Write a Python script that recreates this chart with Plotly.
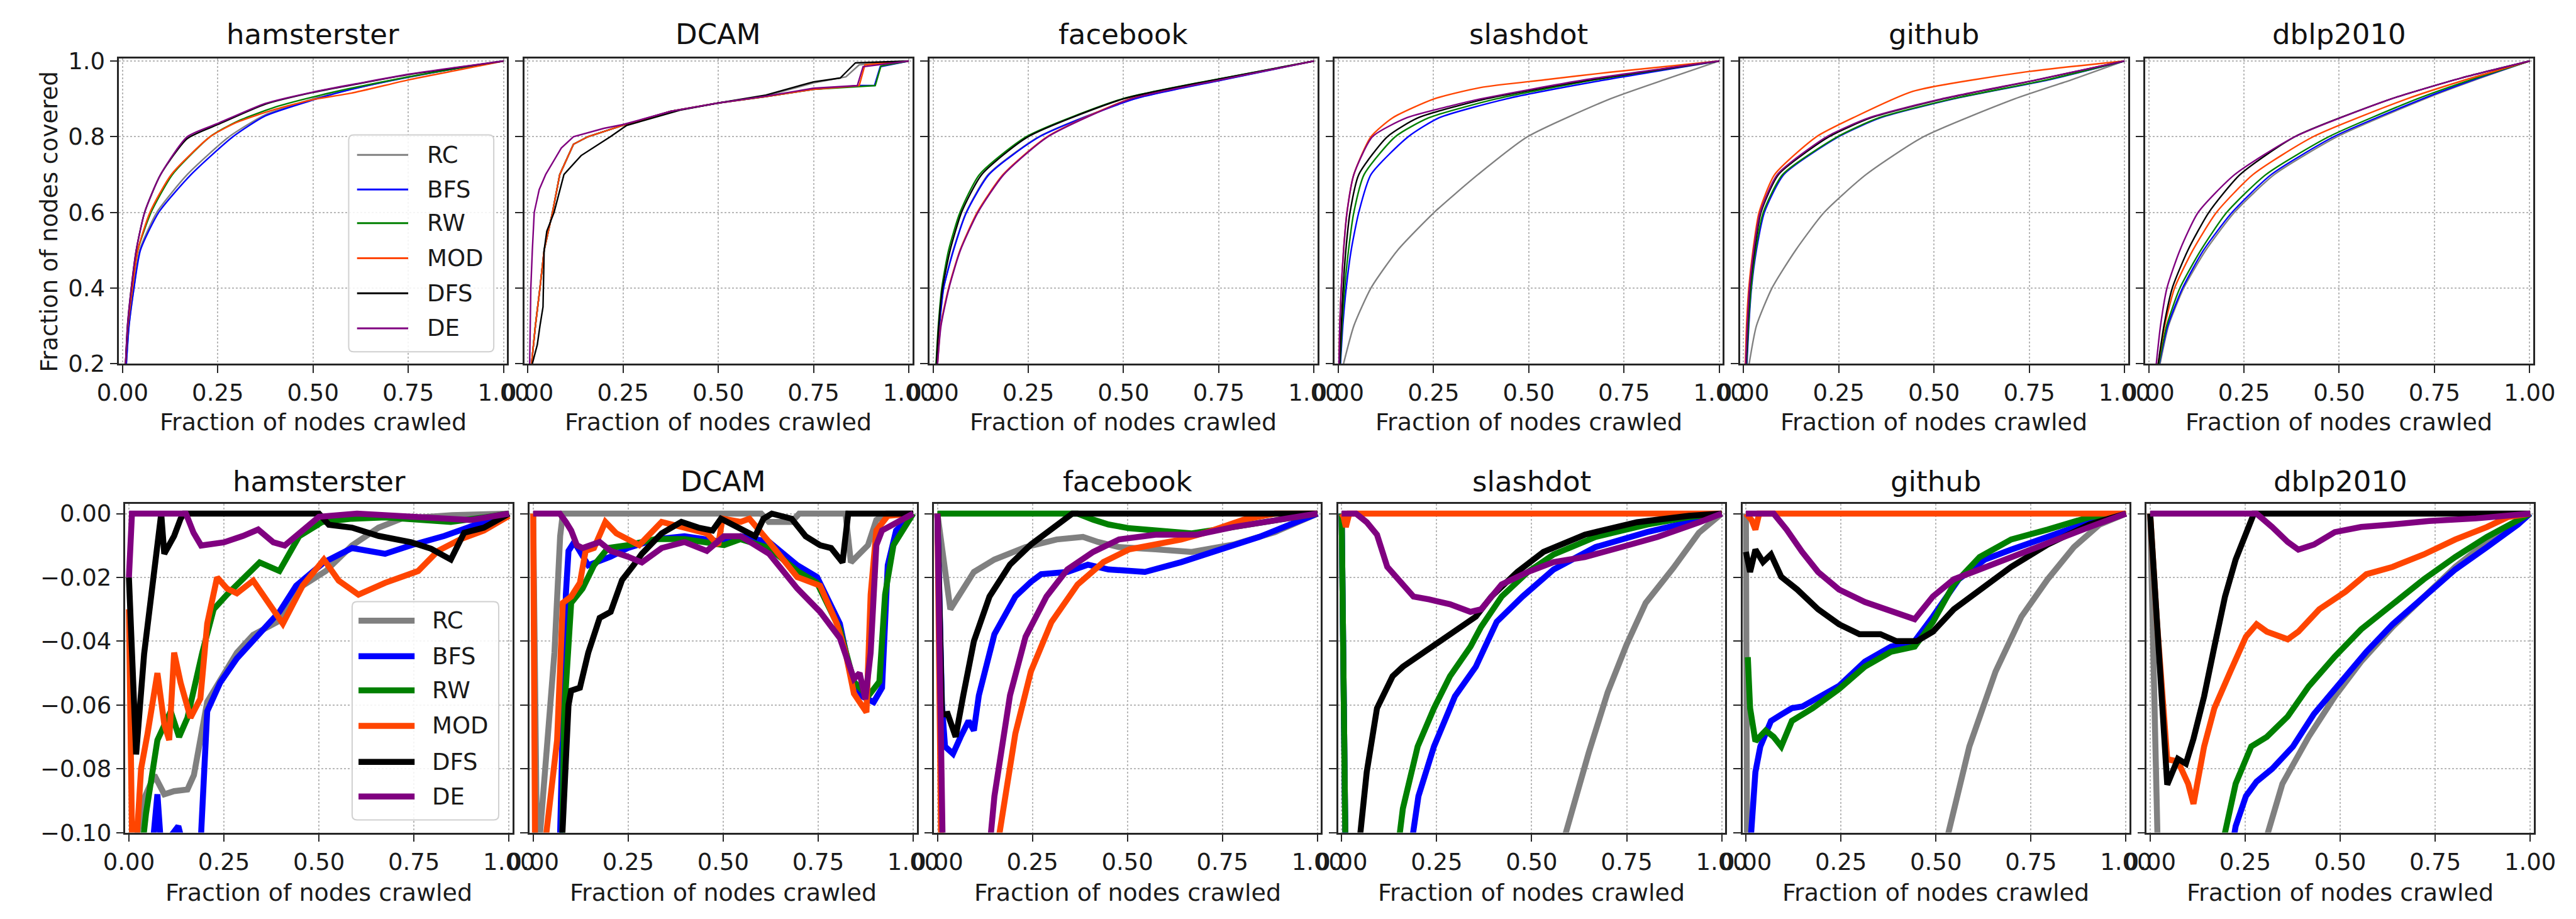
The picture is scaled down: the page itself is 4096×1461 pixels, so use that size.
import plotly.graph_objects as go

# ---------------- data ----------------
DATASETS = ["hamsterster", "DCAM", "facebook", "slashdot", "github", "dblp2010"]
SERIES = ["RC", "BFS", "RW", "MOD", "DFS", "DE"]
COLORS = {"RC": "#808080", "BFS": "#0000ff", "RW": "#008000",
          "MOD": "#ff4500", "DFS": "#000000", "DE": "#800080"}

X_TICKS = [0, 0.25, 0.5, 0.75, 1.0]
X_TICKTEXT = ["0.00", "0.25", "0.50", "0.75", "1.00"]
TOP_Y_TICKS = [0.2, 0.4, 0.6, 0.8, 1.0]
TOP_Y_TICKTEXT = ["0.2", "0.4", "0.6", "0.8", "1.0"]
BOT_Y_TICKS = [0.0, -0.02, -0.04, -0.06, -0.08, -0.10]
BOT_Y_TICKTEXT = ["0.00", "\u22120.02", "\u22120.04", "\u22120.06", "\u22120.08", "\u22120.10"]

# ---- top row: fraction of nodes covered ----
TOP_HAMSTERSTER = {
    "RC":  ([0.01, 0.017, 0.03, 0.045, 0.09, 0.17, 0.28, 0.375, 0.5, 0.6, 0.75, 0.875, 1.0],
            [0.2, 0.3, 0.4, 0.5, 0.6, 0.7, 0.8, 0.858, 0.9, 0.925, 0.958, 0.98, 1.0]),
    "BFS": ([0.01, 0.017, 0.03, 0.047, 0.095, 0.18, 0.29, 0.375, 0.5, 0.6, 0.75, 0.875, 1.0],
            [0.2, 0.3, 0.4, 0.5, 0.6, 0.7, 0.8, 0.855, 0.897, 0.925, 0.957, 0.98, 1.0]),
    "RW":  ([0.008, 0.014, 0.026, 0.04, 0.075, 0.131, 0.23, 0.3, 0.4, 0.5, 0.6, 0.75, 0.875, 1.0],
            [0.2, 0.3, 0.4, 0.5, 0.6, 0.7, 0.8, 0.84, 0.878, 0.905, 0.928, 0.958, 0.98, 1.0]),
    "MOD": ([0.008, 0.014, 0.026, 0.04, 0.072, 0.128, 0.23, 0.3, 0.4, 0.5, 0.6, 0.75, 0.875, 1.0],
            [0.2, 0.3, 0.4, 0.5, 0.6, 0.7, 0.8, 0.838, 0.872, 0.898, 0.915, 0.95, 0.975, 1.0]),
    "DFS": ([0.008, 0.013, 0.023, 0.036, 0.058, 0.10, 0.17, 0.25, 0.375, 0.5, 0.625, 0.75, 0.875, 1.0],
            [0.2, 0.3, 0.4, 0.5, 0.6, 0.7, 0.795, 0.832, 0.886, 0.917, 0.941, 0.964, 0.982, 1.0]),
    "DE":  ([0.008, 0.013, 0.023, 0.036, 0.058, 0.10, 0.17, 0.25, 0.375, 0.5, 0.625, 0.75, 0.875, 1.0],
            [0.2, 0.3, 0.4, 0.5, 0.6, 0.7, 0.8, 0.835, 0.888, 0.918, 0.942, 0.965, 0.983, 1.0]),
}
TOP_DCAM = {
    "RC":  ([0.01, 0.02, 0.032, 0.043, 0.065, 0.084, 0.12, 0.158, 0.25, 0.375, 0.5, 0.625, 0.75, 0.835, 0.87, 1.0],
            [0.2, 0.3, 0.4, 0.5, 0.6, 0.7, 0.78, 0.8, 0.83, 0.867, 0.889, 0.908, 0.942, 0.958, 0.99, 1.0]),
    "BFS": ([0.01, 0.02, 0.032, 0.043, 0.065, 0.084, 0.12, 0.158, 0.25, 0.375, 0.5, 0.625, 0.75, 0.87, 0.91, 0.925, 1.0],
            [0.2, 0.3, 0.4, 0.5, 0.6, 0.7, 0.78, 0.8, 0.83, 0.867, 0.889, 0.906, 0.925, 0.935, 0.935, 0.985, 1.0]),
    "RW":  ([0.01, 0.02, 0.032, 0.043, 0.065, 0.084, 0.12, 0.158, 0.25, 0.375, 0.5, 0.625, 0.75, 0.87, 0.912, 0.927, 1.0],
            [0.2, 0.3, 0.4, 0.5, 0.6, 0.7, 0.78, 0.8, 0.83, 0.867, 0.889, 0.906, 0.925, 0.933, 0.935, 0.987, 1.0]),
    "MOD": ([0.01, 0.02, 0.032, 0.043, 0.065, 0.084, 0.12, 0.158, 0.25, 0.375, 0.5, 0.625, 0.75, 0.87, 0.885, 1.0],
            [0.2, 0.3, 0.4, 0.5, 0.6, 0.7, 0.78, 0.8, 0.83, 0.867, 0.889, 0.906, 0.925, 0.935, 0.99, 1.0]),
    "DFS": ([0.012, 0.025, 0.032, 0.04, 0.043, 0.05, 0.069, 0.095, 0.14, 0.217, 0.26, 0.4, 0.5, 0.625, 0.75, 0.82, 0.84, 0.86, 1.0],
            [0.2, 0.25, 0.3, 0.35, 0.5, 0.55, 0.6, 0.7, 0.75, 0.8, 0.83, 0.87, 0.889, 0.91, 0.945, 0.955, 0.975, 0.995, 1.0]),
    "DE":  ([0.005, 0.007, 0.008, 0.012, 0.017, 0.03, 0.047, 0.088, 0.12, 0.2, 0.25, 0.375, 0.5, 0.625, 0.75, 0.865, 0.88, 1.0],
            [0.2, 0.3, 0.4, 0.5, 0.6, 0.66, 0.7, 0.77, 0.8, 0.822, 0.832, 0.867, 0.889, 0.907, 0.928, 0.935, 0.985, 1.0]),
}
TOP_FACEBOOK = {
    "RC":  ([0.01, 0.017, 0.028, 0.053, 0.087, 0.145, 0.278, 0.528, 0.758, 1.0],
            [0.2, 0.3, 0.4, 0.5, 0.6, 0.7, 0.8, 0.9, 0.95, 1.0]),
    "BFS": ([0.01, 0.017, 0.028, 0.054, 0.088, 0.147, 0.28, 0.53, 0.76, 1.0],
            [0.2, 0.3, 0.4, 0.5, 0.6, 0.7, 0.8, 0.9, 0.95, 1.0]),
    "RW":  ([0.008, 0.014, 0.023, 0.041, 0.071, 0.122, 0.245, 0.497, 0.735, 1.0],
            [0.2, 0.3, 0.4, 0.5, 0.6, 0.7, 0.8, 0.9, 0.95, 1.0]),
    "MOD": ([0.012, 0.02, 0.041, 0.071, 0.116, 0.184, 0.30, 0.517, 0.75, 1.0],
            [0.2, 0.3, 0.4, 0.5, 0.6, 0.7, 0.8, 0.9, 0.95, 1.0]),
    "DFS": ([0.009, 0.015, 0.025, 0.045, 0.075, 0.128, 0.25, 0.5, 0.738, 1.0],
            [0.2, 0.3, 0.4, 0.5, 0.6, 0.7, 0.8, 0.9, 0.95, 1.0]),
    "DE":  ([0.012, 0.021, 0.042, 0.072, 0.118, 0.186, 0.302, 0.52, 0.752, 1.0],
            [0.2, 0.3, 0.4, 0.5, 0.6, 0.7, 0.8, 0.9, 0.95, 1.0]),
}
TOP_SLASHDOT = {
    "RC":  ([0.014, 0.041, 0.086, 0.156, 0.252, 0.367, 0.497, 0.714, 0.86, 1.0],
            [0.2, 0.3, 0.4, 0.5, 0.6, 0.7, 0.8, 0.9, 0.952, 1.0]),
    "BFS": ([0.006, 0.012, 0.021, 0.034, 0.054, 0.086, 0.184, 0.265, 0.442, 0.70, 1.0],
            [0.2, 0.3, 0.4, 0.5, 0.6, 0.7, 0.8, 0.85, 0.9, 0.95, 1.0]),
    "RW":  ([0.005, 0.010, 0.017, 0.027, 0.041, 0.068, 0.15, 0.238, 0.415, 0.673, 1.0],
            [0.2, 0.3, 0.4, 0.5, 0.6, 0.7, 0.8, 0.85, 0.9, 0.95, 1.0]),
    "MOD": ([0.002, 0.004, 0.008, 0.014, 0.023, 0.041, 0.086, 0.143, 0.252, 0.374, 0.54, 0.71, 1.0],
            [0.2, 0.3, 0.4, 0.5, 0.6, 0.7, 0.8, 0.85, 0.9, 0.93, 0.95, 0.97, 1.0]),
    "DFS": ([0.004, 0.008, 0.013, 0.020, 0.031, 0.054, 0.129, 0.21, 0.388, 0.66, 1.0],
            [0.2, 0.3, 0.4, 0.5, 0.6, 0.7, 0.8, 0.85, 0.9, 0.95, 1.0]),
    "DE":  ([0.002, 0.004, 0.008, 0.014, 0.023, 0.041, 0.09, 0.18, 0.29, 0.374, 0.646, 1.0],
            [0.2, 0.3, 0.4, 0.5, 0.6, 0.7, 0.8, 0.85, 0.88, 0.9, 0.95, 1.0]),
}
TOP_GITHUB = {
    "RC":  ([0.015, 0.034, 0.075, 0.137, 0.212, 0.322, 0.473, 0.712, 0.86, 1.0],
            [0.2, 0.3, 0.4, 0.5, 0.6, 0.7, 0.8, 0.9, 0.95, 1.0]),
    "BFS": ([0.009, 0.014, 0.021, 0.034, 0.055, 0.106, 0.25, 0.36, 0.552, 0.80, 1.0],
            [0.2, 0.3, 0.4, 0.5, 0.6, 0.7, 0.8, 0.85, 0.9, 0.95, 1.0]),
    "RW":  ([0.008, 0.013, 0.020, 0.032, 0.052, 0.103, 0.247, 0.356, 0.548, 0.795, 1.0],
            [0.2, 0.3, 0.4, 0.5, 0.6, 0.7, 0.8, 0.85, 0.9, 0.95, 1.0]),
    "MOD": ([0.005, 0.008, 0.014, 0.025, 0.041, 0.082, 0.192, 0.288, 0.445, 0.74, 1.0],
            [0.2, 0.3, 0.4, 0.5, 0.6, 0.7, 0.8, 0.85, 0.92, 0.971, 1.0]),
    "DFS": ([0.007, 0.011, 0.017, 0.029, 0.046, 0.092, 0.225, 0.335, 0.525, 0.77, 1.0],
            [0.2, 0.3, 0.4, 0.5, 0.6, 0.7, 0.8, 0.85, 0.9, 0.95, 1.0]),
    "DE":  ([0.006, 0.010, 0.016, 0.027, 0.044, 0.089, 0.219, 0.33, 0.52, 0.767, 1.0],
            [0.2, 0.3, 0.4, 0.5, 0.6, 0.7, 0.8, 0.85, 0.9, 0.95, 1.0]),
}
TOP_DBLP2010 = {
    "RC":  ([0.03, 0.052, 0.092, 0.15, 0.225, 0.33, 0.495, 0.725, 0.86, 1.0],
            [0.2, 0.3, 0.4, 0.5, 0.6, 0.7, 0.8, 0.9, 0.951, 1.0]),
    "BFS": ([0.028, 0.05, 0.089, 0.144, 0.219, 0.322, 0.486, 0.719, 0.855, 1.0],
            [0.2, 0.3, 0.4, 0.5, 0.6, 0.7, 0.8, 0.9, 0.951, 1.0]),
    "RW":  ([0.027, 0.047, 0.082, 0.137, 0.205, 0.308, 0.473, 0.705, 0.85, 1.0],
            [0.2, 0.3, 0.4, 0.5, 0.6, 0.7, 0.8, 0.9, 0.952, 1.0]),
    "MOD": ([0.025, 0.042, 0.068, 0.116, 0.178, 0.274, 0.432, 0.678, 0.84, 1.0],
            [0.2, 0.3, 0.4, 0.5, 0.6, 0.7, 0.8, 0.9, 0.953, 1.0]),
    "DFS": ([0.025, 0.04, 0.062, 0.103, 0.158, 0.24, 0.384, 0.637, 0.82, 1.0],
            [0.2, 0.3, 0.4, 0.5, 0.6, 0.7, 0.8, 0.9, 0.955, 1.0]),
    "DE":  ([0.02, 0.031, 0.048, 0.082, 0.13, 0.226, 0.384, 0.637, 0.82, 1.0],
            [0.2, 0.3, 0.4, 0.5, 0.6, 0.7, 0.8, 0.9, 0.955, 1.0]),
}

# ---- bottom row: difference to the best crawler ----
BOT_HAMSTERSTER = {
    "RC":  ([0.012, 0.023, 0.041, 0.067, 0.093, 0.119, 0.154, 0.171, 0.206, 0.24, 0.284, 0.327, 0.396, 0.457, 0.518, 0.587, 0.657, 0.717, 0.85, 1.0],
            [-0.12, -0.1, -0.089, -0.082, -0.088, -0.087, -0.0865, -0.082, -0.059, -0.052, -0.0436, -0.038, -0.0336, -0.0226, -0.018, -0.010, -0.0044, -0.0016, -0.0005, 0.0]),
    "BFS": ([0.05, 0.06, 0.075, 0.085, 0.13, 0.145, 0.188, 0.206, 0.24, 0.284, 0.327, 0.396, 0.44, 0.513, 0.587, 0.674, 0.743, 0.83, 0.934, 1.0],
            [-0.12, -0.105, -0.088, -0.105, -0.098, -0.105, -0.105, -0.062, -0.053, -0.0454, -0.040, -0.0308, -0.0226, -0.0153, -0.0108, -0.0126, -0.0099, -0.007, -0.0026, 0.0]),
    "RW":  ([0.03, 0.045, 0.075, 0.11, 0.132, 0.154, 0.193, 0.223, 0.258, 0.31, 0.344, 0.396, 0.448, 0.509, 0.587, 0.674, 0.847, 0.934, 1.0],
            [-0.11, -0.094, -0.071, -0.062, -0.070, -0.064, -0.0436, -0.030, -0.0254, -0.019, -0.0153, -0.018, -0.0071, -0.0026, -0.0016, -0.0012, -0.0026, -0.0012, 0.0]),
    "MOD": ([0.0, 0.008, 0.019, 0.032, 0.049, 0.075, 0.093, 0.106, 0.119, 0.136, 0.162, 0.188, 0.206, 0.232, 0.258, 0.284, 0.327, 0.405, 0.457, 0.513, 0.552, 0.604, 0.674, 0.761, 0.813, 0.873, 0.934, 1.0],
            [-0.03, -0.1, -0.105, -0.080, -0.069, -0.050, -0.066, -0.071, -0.0436, -0.053, -0.064, -0.058, -0.0345, -0.020, -0.0235, -0.025, -0.021, -0.0345, -0.0226, -0.0144, -0.021, -0.0254, -0.0217, -0.018, -0.0117, -0.008, -0.0053, -0.0007]),
    "DFS": ([0.0, 0.019, 0.04, 0.067, 0.08, 0.085, 0.093, 0.119, 0.136, 0.145, 0.5, 0.526, 0.587, 0.657, 0.743, 0.795, 0.847, 0.882, 0.934, 1.0],
            [-0.02, -0.0755, -0.044, -0.016, -0.0026, 0.0, -0.0126, -0.007, -0.0016, 0.0, 0.0, -0.0035, -0.0044, -0.007, -0.009, -0.011, -0.0144, -0.006, -0.0044, 0.0]),
    "DE":  ([0.0, 0.008, 0.15, 0.17, 0.19, 0.25, 0.30, 0.34, 0.38, 0.41, 0.45, 0.5, 0.6, 0.75, 0.9, 1.0],
            [-0.02, 0.0, 0.0, -0.006, -0.010, -0.009, -0.007, -0.005, -0.009, -0.010, -0.006, -0.001, 0.0, -0.001, -0.002, 0.0]),
}
BOT_DCAM = {
    "RC":  ([0.0, 0.01, 0.015, 0.033, 0.056, 0.071, 0.078, 0.6, 0.62, 0.68, 0.70, 0.822, 0.836, 0.881, 0.903, 0.93, 1.0],
            [0.0, -0.105, -0.105, -0.080, -0.0436, -0.0071, 0.0, 0.0, -0.0026, -0.0026, 0.0, 0.0, -0.0153, -0.0099, -0.002, 0.0, 0.0]),
    "BFS": ([0.07, 0.086, 0.093, 0.108, 0.145, 0.167, 0.204, 0.249, 0.323, 0.398, 0.502, 0.546, 0.621, 0.695, 0.747, 0.807, 0.836, 0.866, 0.896, 0.918, 0.933, 0.955, 1.0],
            [-0.105, -0.0254, -0.0117, -0.0089, -0.0162, -0.0153, -0.0135, -0.0108, -0.008, -0.0071, -0.0089, -0.0071, -0.0089, -0.0162, -0.0199, -0.0345, -0.0509, -0.0573, -0.0591, -0.0546, -0.0162, -0.0053, 0.0]),
    "RW":  ([0.076, 0.082, 0.10, 0.13, 0.16, 0.197, 0.249, 0.323, 0.398, 0.502, 0.546, 0.621, 0.695, 0.747, 0.807, 0.844, 0.881, 0.911, 0.926, 0.948, 1.0],
            [-0.105, -0.062, -0.028, -0.0235, -0.0162, -0.0108, -0.0099, -0.008, -0.008, -0.0099, -0.008, -0.0108, -0.018, -0.0217, -0.0363, -0.0527, -0.0573, -0.0527, -0.0254, -0.0099, 0.0]),
    "MOD": ([0.0, 0.005, 0.03, 0.063, 0.078, 0.10, 0.123, 0.138, 0.16, 0.19, 0.219, 0.279, 0.338, 0.398, 0.457, 0.487, 0.498, 0.546, 0.569, 0.621, 0.695, 0.755, 0.799, 0.822, 0.844, 0.877, 0.888, 0.903, 0.933, 1.0],
            [0.0, -0.105, -0.105, -0.071, -0.028, -0.026, -0.0217, -0.0117, -0.0108, -0.0026, -0.0062, -0.0099, -0.0026, -0.0044, -0.0062, -0.0099, -0.0016, -0.0026, -0.0016, -0.0089, -0.0199, -0.0226, -0.0345, -0.0436, -0.0564, -0.0623, -0.0254, -0.0053, -0.0007, 0.0]),
    "DFS": ([0.075, 0.093, 0.10, 0.123, 0.145, 0.175, 0.204, 0.234, 0.264, 0.286, 0.338, 0.39, 0.435, 0.472, 0.494, 0.584, 0.606, 0.628, 0.68, 0.717, 0.755, 0.784, 0.814, 0.829, 1.0],
            [-0.105, -0.060, -0.0555, -0.0546, -0.0436, -0.0327, -0.0308, -0.0208, -0.0162, -0.0126, -0.0062, -0.0026, -0.0044, -0.0053, -0.0016, -0.0071, -0.0016, 0.0, -0.0016, -0.0071, -0.0099, -0.0108, -0.0153, 0.0, 0.0]),
    "DE":  ([0.0, 0.07, 0.086, 0.10, 0.115, 0.13, 0.175, 0.204, 0.249, 0.286, 0.338, 0.398, 0.457, 0.502, 0.546, 0.621, 0.695, 0.755, 0.807, 0.844, 0.859, 0.874, 0.888, 0.903, 0.918, 1.0],
            [0.0, 0.0, -0.0026, -0.0053, -0.0099, -0.0108, -0.0089, -0.0117, -0.0135, -0.0153, -0.0108, -0.0089, -0.0117, -0.0071, -0.0071, -0.0126, -0.0235, -0.0308, -0.039, -0.0518, -0.050, -0.0582, -0.0436, -0.0099, -0.0053, 0.0]),
}
BOT_FACEBOOK = {
    "RC":  ([0.0, 0.034, 0.055, 0.096, 0.15, 0.232, 0.314, 0.383, 0.423, 0.478, 0.574, 0.669, 0.779, 0.888, 1.0],
            [0.0, -0.030, -0.026, -0.0183, -0.0144, -0.0105, -0.0081, -0.0073, -0.0089, -0.0105, -0.0112, -0.012, -0.0097, -0.0058, 0.0]),
    "BFS": ([0.0, 0.012, 0.02, 0.041, 0.061, 0.082, 0.096, 0.109, 0.15, 0.205, 0.246, 0.273, 0.342, 0.396, 0.45, 0.546, 0.642, 0.724, 0.847, 1.0],
            [0.0, -0.060, -0.073, -0.0753, -0.070, -0.065, -0.068, -0.057, -0.0378, -0.026, -0.0214, -0.019, -0.0183, -0.016, -0.0175, -0.0183, -0.0152, -0.012, -0.0073, 0.0]),
    "RW":  ([0.0, 0.369, 0.41, 0.45, 0.505, 0.574, 0.669, 0.779, 0.915, 1.0],
            [0.0, 0.0, -0.0019, -0.0034, -0.0046, -0.0054, -0.0062, -0.0042, -0.0019, 0.0]),
    "MOD": ([0.0, 0.01, 0.157, 0.178, 0.205, 0.246, 0.30, 0.369, 0.437, 0.505, 0.574, 0.642, 0.71, 0.806, 0.888, 1.0],
            [0.0, -0.105, -0.105, -0.0886, -0.069, -0.0495, -0.034, -0.0222, -0.0152, -0.0112, -0.0097, -0.0081, -0.0058, -0.0019, 0.0, 0.0]),
    "DFS": ([0.0, 0.012, 0.027, 0.048, 0.068, 0.096, 0.137, 0.191, 0.246, 0.30, 0.355, 1.0],
            [0.0, -0.063, -0.0628, -0.070, -0.057, -0.040, -0.026, -0.016, -0.0097, -0.005, 0.0, 0.0]),
    "DE":  ([0.0, 0.014, 0.137, 0.15, 0.191, 0.232, 0.287, 0.342, 0.41, 0.478, 0.574, 0.683, 0.779, 0.915, 1.0],
            [0.0, -0.105, -0.105, -0.0886, -0.057, -0.0386, -0.026, -0.0175, -0.012, -0.0081, -0.0066, -0.0066, -0.0042, -0.0019, 0.0]),
}
BOT_SLASHDOT = {
    "RC":  ([0.0, 0.01, 0.585, 0.59, 0.65, 0.70, 0.75, 0.80, 0.873, 0.94, 1.0],
            [0.0, -0.105, -0.105, -0.10, -0.075, -0.056, -0.041, -0.028, -0.017, -0.006, 0.0]),
    "BFS": ([0.0, 0.01, 0.182, 0.202, 0.243, 0.298, 0.353, 0.408, 0.476, 0.558, 0.668, 0.804, 0.914, 1.0],
            [0.0, -0.105, -0.105, -0.0886, -0.073, -0.0573, -0.048, -0.0339, -0.026, -0.0175, -0.0105, -0.0058, -0.0027, 0.0]),
    "RW":  ([0.0, 0.01, 0.148, 0.161, 0.20, 0.243, 0.285, 0.339, 0.367, 0.421, 0.49, 0.558, 0.668, 0.804, 0.914, 1.0],
            [0.0, -0.105, -0.105, -0.0925, -0.073, -0.061, -0.051, -0.0417, -0.0355, -0.026, -0.0183, -0.0128, -0.0073, -0.0034, -0.0011, 0.0]),
    "MOD": ([0.0, 0.005, 0.011, 0.02, 1.0],
            [0.0, -0.001, -0.0042, 0.0, 0.0]),
    "DFS": ([0.045, 0.066, 0.093, 0.134, 0.161, 0.20, 0.257, 0.312, 0.353, 0.394, 0.462, 0.531, 0.64, 0.777, 0.914, 1.0],
            [-0.105, -0.081, -0.061, -0.051, -0.048, -0.0448, -0.040, -0.0355, -0.0323, -0.026, -0.0183, -0.012, -0.0066, -0.0027, -0.0007, 0.0]),
    "DE":  ([0.0, 0.038, 0.066, 0.093, 0.12, 0.148, 0.189, 0.23, 0.285, 0.339, 0.367, 0.421, 0.49, 0.558, 0.64, 0.736, 0.832, 0.941, 1.0],
            [0.0, 0.0, -0.0027, -0.0066, -0.0167, -0.0206, -0.026, -0.0269, -0.0284, -0.0308, -0.030, -0.0222, -0.0183, -0.0152, -0.0136, -0.0105, -0.0073, -0.0027, 0.0]),
}
BOT_GITHUB = {
    "RC":  ([0.0, 0.003, 0.53, 0.533, 0.588, 0.657, 0.725, 0.794, 0.863, 0.931, 1.0],
            [0.0, -0.105, -0.105, -0.10, -0.073, -0.0495, -0.0323, -0.0206, -0.0105, -0.0034, 0.0]),
    "BFS": ([0.011, 0.025, 0.038, 0.066, 0.093, 0.121, 0.148, 0.245, 0.313, 0.382, 0.444, 0.492, 0.56, 0.629, 0.698, 0.794, 0.904, 1.0],
            [-0.105, -0.081, -0.073, -0.065, -0.063, -0.061, -0.0605, -0.054, -0.0464, -0.0417, -0.040, -0.0323, -0.0206, -0.0144, -0.0113, -0.0073, -0.0027, 0.0]),
    "RW":  ([0.005, 0.011, 0.025, 0.052, 0.073, 0.093, 0.121, 0.176, 0.245, 0.313, 0.382, 0.444, 0.492, 0.547, 0.615, 0.698, 0.794, 0.904, 1.0],
            [-0.045, -0.061, -0.0714, -0.068, -0.070, -0.073, -0.065, -0.061, -0.055, -0.048, -0.0433, -0.0417, -0.034, -0.0222, -0.0136, -0.0081, -0.005, -0.0011, 0.0]),
    "MOD": ([0.0, 0.015, 0.025, 0.035, 1.0],
            [0.0, -0.002, -0.005, 0.0, 0.0]),
    "DFS": ([0.0, 0.011, 0.025, 0.045, 0.066, 0.093, 0.135, 0.19, 0.245, 0.299, 0.354, 0.396, 0.45, 0.492, 0.547, 0.615, 0.698, 0.794, 0.904, 1.0],
            [-0.012, -0.0183, -0.0113, -0.0152, -0.0128, -0.0198, -0.0238, -0.030, -0.0347, -0.0378, -0.0378, -0.040, -0.040, -0.037, -0.030, -0.0238, -0.0167, -0.0097, -0.0034, 0.0]),
    "DE":  ([0.0, 0.073, 0.107, 0.148, 0.19, 0.245, 0.313, 0.382, 0.444, 0.492, 0.547, 0.615, 0.698, 0.794, 0.904, 1.0],
            [0.0, 0.0, -0.005, -0.012, -0.0183, -0.0238, -0.0277, -0.0308, -0.0331, -0.026, -0.0206, -0.0175, -0.0136, -0.0089, -0.0042, 0.0]),
}
BOT_DBLP2010 = {
    "RC":  ([0.0, 0.02, 0.30, 0.31, 0.348, 0.417, 0.486, 0.555, 0.638, 0.72, 0.803, 0.886, 0.968, 1.0],
            [0.0, -0.105, -0.105, -0.10, -0.0847, -0.070, -0.0573, -0.0464, -0.0355, -0.0261, -0.0167, -0.0089, -0.0027, 0.0]),
    "BFS": ([0.215, 0.225, 0.252, 0.28, 0.321, 0.376, 0.431, 0.50, 0.569, 0.638, 0.72, 0.803, 0.886, 0.968, 1.0],
            [-0.105, -0.098, -0.0886, -0.084, -0.080, -0.073, -0.0628, -0.0527, -0.0433, -0.0347, -0.0261, -0.0175, -0.0105, -0.0034, 0.0]),
    "RW":  ([0.19, 0.197, 0.225, 0.266, 0.307, 0.362, 0.417, 0.486, 0.555, 0.638, 0.72, 0.803, 0.886, 1.0],
            [-0.105, -0.10, -0.0847, -0.073, -0.070, -0.0636, -0.0542, -0.0448, -0.0363, -0.0284, -0.0206, -0.0136, -0.0073, 0.0]),
    "MOD": ([0.0, 0.018, 0.045, 0.073, 0.10, 0.114, 0.142, 0.169, 0.211, 0.252, 0.28, 0.307, 0.362, 0.39, 0.445, 0.514, 0.569, 0.638, 0.72, 0.803, 0.886, 0.941, 1.0],
            [0.0, -0.034, -0.077, -0.0777, -0.0847, -0.091, -0.073, -0.061, -0.0495, -0.0386, -0.0347, -0.037, -0.0394, -0.037, -0.030, -0.0245, -0.019, -0.0167, -0.0128, -0.0081, -0.0042, -0.0011, 0.0]),
    "DFS": ([0.0, 0.02, 0.045, 0.073, 0.094, 0.114, 0.142, 0.169, 0.197, 0.225, 0.252, 0.273, 1.0],
            [0.0, -0.040, -0.085, -0.0769, -0.0784, -0.0706, -0.0573, -0.0417, -0.026, -0.0144, -0.0066, 0.0, 0.0]),
    "DE":  ([0.0, 0.28, 0.321, 0.362, 0.39, 0.431, 0.486, 0.555, 0.638, 0.734, 0.858, 1.0],
            [0.0, 0.0, -0.0042, -0.0089, -0.0113, -0.0097, -0.0058, -0.0042, -0.0034, -0.0023, -0.0015, 0.0]),
}

TOP_DATA = [TOP_HAMSTERSTER, TOP_DCAM, TOP_FACEBOOK, TOP_SLASHDOT, TOP_GITHUB, TOP_DBLP2010]
BOT_DATA = [BOT_HAMSTERSTER, BOT_DCAM, BOT_FACEBOOK, BOT_SLASHDOT, BOT_GITHUB, BOT_DBLP2010]

# ---------------- layout geometry (reference pixel units) ----------------
W, H = 4096, 1461
REF_W, REF_H = 5146, 1836
S = W / REF_W
FONT = "DejaVu Sans"


def fx(x):
    return x / REF_W


def fy(y):
    return 1 - y / REF_H


TOP_LEFT0, TOP_STEP, TOP_WIDTH = 196, 824, 789
TOP_Y0, TOP_Y1 = 97.6, 724.5
BOT_LEFT0, BOT_STEP, BOT_WIDTH = 209, 822, 787
BOT_Y0, BOT_Y1 = 1012, 1687
X_RANGE = [-0.0092, 1.0092]
TOP_Y_RANGE = [0.2, 1.0073]
BOT_Y_RANGE = [-0.1, 0.0031]

fig = go.Figure()
layout = dict(
    width=W, height=H, margin=dict(l=0, r=0, t=0, b=0),
    paper_bgcolor="white", plot_bgcolor="white", showlegend=False,
    font=dict(family=FONT, color="#1a1a1a", size=round(47 * S)),
)

tick_font = dict(family=FONT, size=round(47 * S), color="#1a1a1a")
axis_common = dict(
    showline=True, mirror=True, linecolor="#262626", linewidth=2.5,
    ticks="outside", ticklen=round(15 * S), tickwidth=2, tickcolor="#262626",
    showgrid=True, gridcolor="#b8b8b8", gridwidth=2, griddash="dot",
    zeroline=False, tickfont=tick_font, fixedrange=True,
)

annotations = []
shapes = []

for row in range(2):
    for i, name in enumerate(DATASETS):
        k = row * 6 + i + 1
        if row == 0:
            left = TOP_LEFT0 + TOP_STEP * i
            right = left + TOP_WIDTH
            ytop, ybot = TOP_Y0, TOP_Y1
            yrange, yticks, yticktext = TOP_Y_RANGE, TOP_Y_TICKS, TOP_Y_TICKTEXT
            data = TOP_DATA[i]
            lw = 2.4
            shape = "spline" if name != "DCAM" else "linear"
        else:
            left = BOT_LEFT0 + BOT_STEP * i
            right = left + BOT_WIDTH
            ytop, ybot = BOT_Y0, BOT_Y1
            yrange, yticks, yticktext = BOT_Y_RANGE, BOT_Y_TICKS, BOT_Y_TICKTEXT
            data = BOT_DATA[i]
            lw = 9.5
            shape = "linear"
        xa = "x" if k == 1 else f"x{k}"
        ya = "y" if k == 1 else f"y{k}"
        layout["xaxis" if k == 1 else f"xaxis{k}"] = dict(
            axis_common, domain=[fx(left), fx(right)], range=X_RANGE, anchor=ya,
            tickmode="array", tickvals=X_TICKS, ticktext=X_TICKTEXT,
        )
        layout["yaxis" if k == 1 else f"yaxis{k}"] = dict(
            axis_common, domain=[fy(ybot), fy(ytop)], range=yrange, anchor=xa,
            tickmode="array", tickvals=yticks, ticktext=yticktext,
            showticklabels=(i == 0),
        )
        for s in SERIES:
            xs, ys = data[s]
            fig.add_trace(go.Scatter(
                x=xs, y=ys, mode="lines", name=s, xaxis=xa, yaxis=ya,
                line=dict(color=COLORS[s], width=lw, shape=shape,
                          smoothing=0.6 if shape == "spline" else None),
                hoverinfo="skip",
            ))
        cx = (left + right) / 2
        title_y = 49 if row == 0 else 966
        annotations.append(dict(
            text=name, x=fx(cx), y=fy(title_y), xref="paper", yref="paper",
            showarrow=False, xanchor="center", yanchor="middle",
            font=dict(family=FONT, size=round(57 * S), color="#111111"),
        ))
        xlabel_y = 845 if row == 0 else 1810
        annotations.append(dict(
            text="Fraction of nodes crawled", x=fx(cx), y=fy(xlabel_y),
            xref="paper", yref="paper", showarrow=False,
            xanchor="center", yanchor="middle",
            font=dict(family=FONT, size=round(48 * S), color="#1a1a1a"),
        ))

annotations.append(dict(
    text="Fraction of nodes covered", x=fx(54), y=fy(433), xref="paper", yref="paper",
    showarrow=False, textangle=-90, xanchor="center", yanchor="middle",
    font=dict(family=FONT, size=round(47 * S), color="#1a1a1a"),
))


def rounded_box(x0, y0, x1, y1, r):
    def p(x, y):
        return f"{fx(x):.6f},{fy(y):.6f}"
    return (f"M {p(x0 + r, y0)} L {p(x1 - r, y0)} Q {p(x1, y0)} {p(x1, y0 + r)} "
            f"L {p(x1, y1 - r)} Q {p(x1, y1)} {p(x1 - r, y1)} "
            f"L {p(x0 + r, y1)} Q {p(x0, y1)} {p(x0, y1 - r)} "
            f"L {p(x0, y0 + r)} Q {p(x0, y0)} {p(x0 + r, y0)} Z")


LEGENDS = [
    dict(box=(663, 255, 958, 700), rows=[296, 367, 436, 508, 580, 652],
         line_x=(680, 784), text_x=820, lw=3),
    dict(box=(670, 1213, 968, 1661), rows=[1252, 1325, 1395, 1468, 1542, 1613],
         line_x=(683, 797), text_x=830, lw=9.5),
]
for lg in LEGENDS:
    x0, y0, x1, y1 = lg["box"]
    shapes.append(dict(type="path", path=rounded_box(x0, y0, x1, y1, 10),
                       xref="paper", yref="paper", layer="above",
                       fillcolor="rgba(255,255,255,0.85)",
                       line=dict(color="#d0d0d0", width=2)))
    for s, yy in zip(SERIES, lg["rows"]):
        shapes.append(dict(type="line", xref="paper", yref="paper", layer="above",
                           x0=fx(lg["line_x"][0]), x1=fx(lg["line_x"][1]),
                           y0=fy(yy), y1=fy(yy),
                           line=dict(color=COLORS[s], width=lg["lw"])))
        annotations.append(dict(
            text=s, x=fx(lg["text_x"]), y=fy(yy), xref="paper", yref="paper",
            showarrow=False, xanchor="left", yanchor="middle",
            font=dict(family=FONT, size=round(47 * S), color="#1a1a1a"),
        ))

layout["annotations"] = annotations
layout["shapes"] = shapes
fig.update_layout(**layout)
fig.write_html("out.html")
